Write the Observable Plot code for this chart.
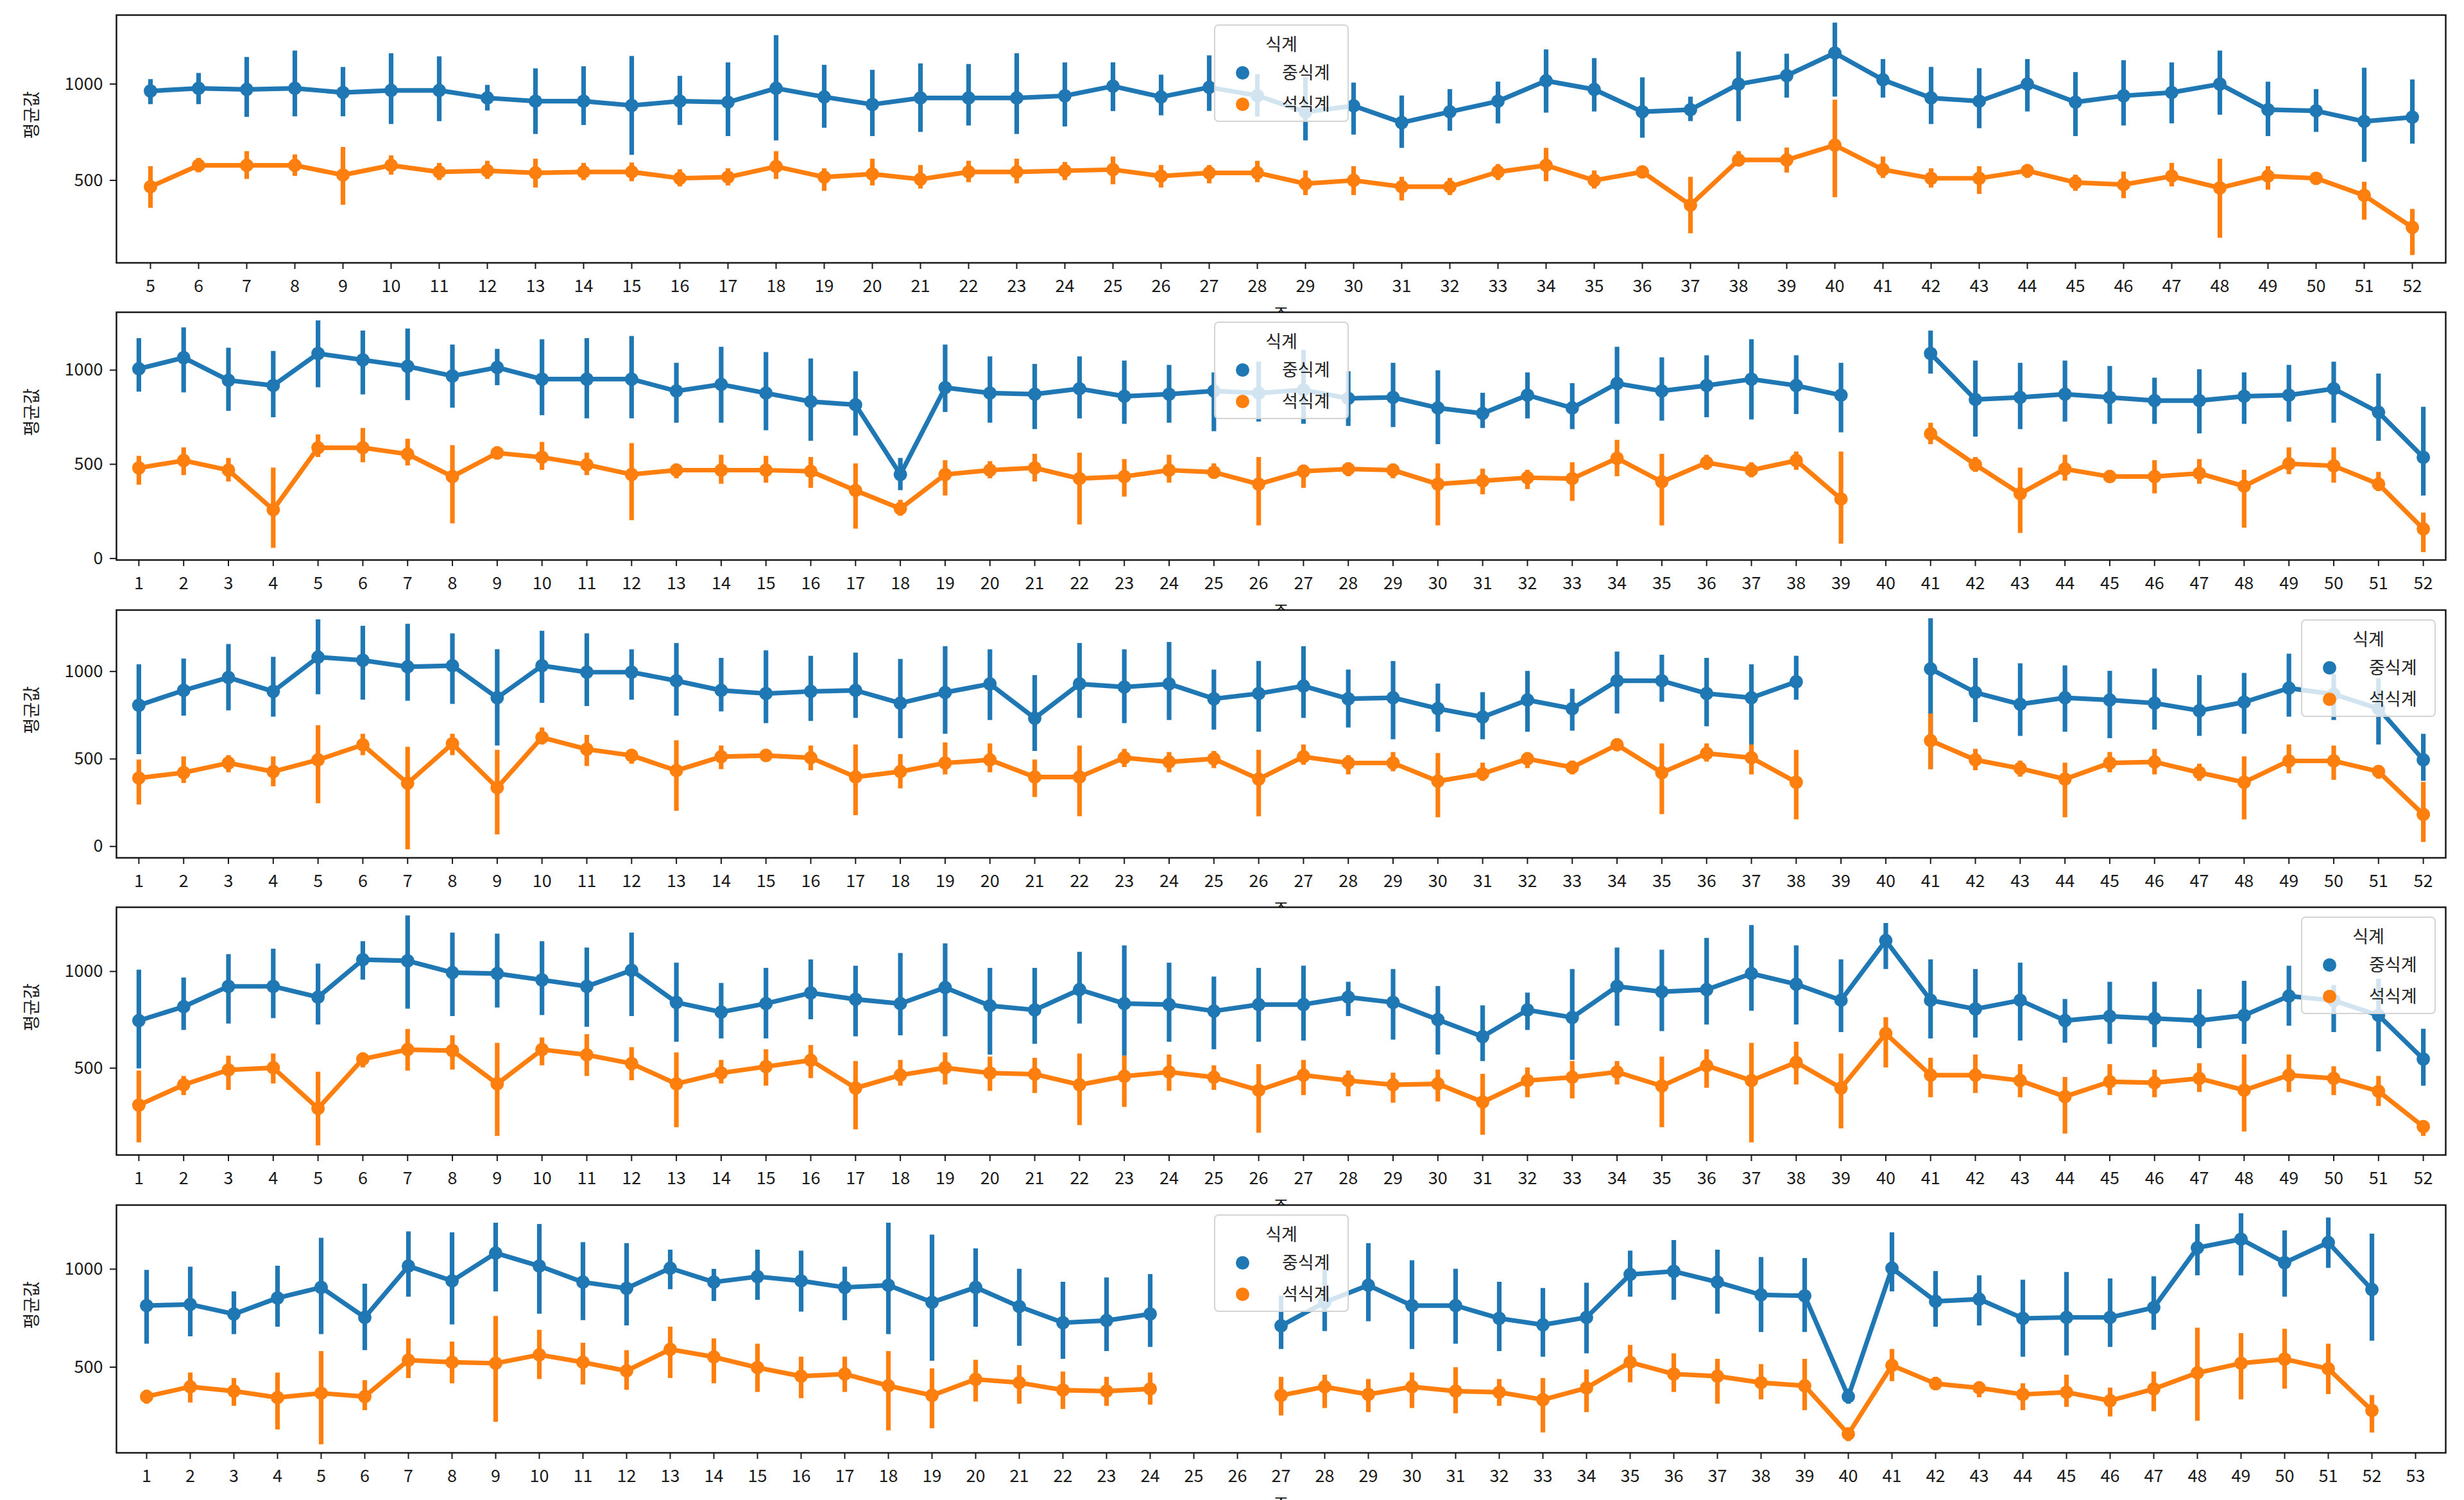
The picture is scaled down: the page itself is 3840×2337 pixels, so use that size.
<!DOCTYPE html>
<html>
<head>
<meta charset="utf-8">
<script src="https://cdn.jsdelivr.net/npm/d3@7"></script>
<script src="https://cdn.jsdelivr.net/npm/@observablehq/plot@0.6"></script>
<style>
  html, body { margin: 0; padding: 0; background: #fff; }
  #chart { position: relative; width: 3840px; height: 2337px; overflow: hidden; background: #fff;
           font-family: "Noto Sans CJK KR", "Noto Sans", sans-serif; }
  .panel { position: absolute; left: 0; }
  .legend { position: absolute; width: 210px; height: 152px; box-sizing: border-box;
            background: rgba(255,255,255,0.8); border: 2px solid #d4d4d4; border-radius: 7px; }
  .legend .ttl { position: absolute; left: 0; width: 100%; top: 12px; text-align: center;
                 font-size: 27px; line-height: 32px; color: #222; }
  .legend .dot { position: absolute; width: 21px; height: 21px; border-radius: 50%; }
  .legend .lab { position: absolute; font-size: 27px; line-height: 32px; color: #222; }
</style>
</head>
<body>
<div id="chart"></div>
<script>
// ---------------- data ----------------
const seriesNames = ["중식계", "석식계"];

// Panel 1: weeks 5..52
const weeks1 = d3.range(5, 53);
const blue1   = [964,978,972,978,956,967,967,928,911,911, 889,911,906,978,933,894,928,928,928,939, 989,933,983,940,855,887,800,856,911,1017, 972,856,867,1000,1044,1161,1022,928,911,1000, 906,939,956,1000,867,861,806,828];
const blueLo1 = [894,894,828,831,831,791,806,861,739,786, 631,786,728,706,772,728,750,783,739,778, 858,836,859,830,706,736,667,756,794,850, 856,720,806,806,928,933,928,791,769,856, 728,783,794,839,728,750,594,689];
const blueHi1 = [1024,1056,1139,1172,1087,1158,1142,994,1080,1091, 1144,1041,1111,1252,1098,1072,1106,1102,1158,1111, 1111,1047,1147,1050,1033,1006,939,972,1011,1178, 1133,1033,933,1167,1156,1317,1128,1087,1081,1128, 1061,1122,1111,1172,1011,972,1083,1022];
const orange1   = [467,578,578,578,528,578,544,550,539,544, 544,511,517,572,517,533,506,544,544,550, 556,522,539,539,483,500,467,467,544,578, 500,544,372,606,606,683,556,511,511,550, 489,478,522,461,522,511,422,256];
const orangeLo1 = [356,540,506,522,372,528,500,506,461,500, 494,467,472,506,444,472,456,489,483,500, 478,461,483,489,422,422,394,422,500,494, 456,511,224,572,539,411,511,461,428,511, 444,406,467,200,450,478,294,111];
const orangeHi1 = [572,615,650,633,672,628,589,600,611,589, 591,556,561,650,561,611,578,600,611,594, 622,578,578,600,550,572,517,511,583,667, 550,572,517,650,669,917,622,561,572,583, 528,544,589,611,572,539,491,350];

// Panel 2: weeks 1..52
const weeks2 = d3.range(1, 53);
const blue2   = [1007,1066,946,918,1088,1054,1020,969,1014,952, 952,952,889,924,878,833,816,446,907,878, 872,901,861,872,889,878,895,850,855,799, 770,867,799,929,889,918,952,918,867,null, 1088,844,855,872,855,838,838,861,867,901, 776,537];
const blueLo2 = [884,880,782,748,907,869,839,799,918,759, 742,742,719,719,679,623,651,361,776,719, 685,742,713,719,674,725,713,702,696,605, 691,742,685,713,730,748,736,765,668,null, 980,645,685,725,713,713,662,713,725,719, 623,333];
const blueHi2 = [1168,1225,1117,1100,1262,1208,1219,1134,1111,1162, 1168,1179,1037,1122,1094,1060,992,532,1134,1071, 1031,1071,1049,1026,986,1043,1105,992,1037,997, 878,986,929,1122,1066,1077,1162,1077,1037,null, 1208,1049,1037,1049,1020,958,1003,986,1026,1043, 980,804];
const orange2   = [481,520,469,259,588,588,554,435,560,537, 498,446,469,469,469,463,361,265,446,469, 481,424,435,469,458,395,463,475,469,395, 412,429,424,532,407,509,469,520,316,null, 662,498,344,475,435,435,452,384,503,492, 395,157];
const orangeLo2 = [390,441,407,55,537,509,492,185,526,469, 441,202,424,395,401,373,157,225,333,424, 407,179,327,401,424,174,373,435,424,174, 339,367,304,435,174,469,429,469,77,null, 605,458,134,412,401,344,395,162,446,401, 356,32];
const orangeHi2 = [543,588,532,481,657,691,634,600,594,617, 560,611,503,549,543,537,503,310,520,515, 554,560,526,549,503,537,497,509,503,503, 475,469,509,628,554,549,509,566,566,null, 719,537,481,549,469,520,526,469,588,588, 458,242];

// Panel 3: weeks 1..52
const weeks3 = d3.range(1, 53);
const blue3   = [807,892,966,886,1082,1064,1027,1033,850,1033, 996,996,947,892,874,886,892,819,880,929, 733,929,911,929,844,874,917,844,850,788, 740,837,788,947,947,874,850,941,null,null, 1015,880,813,850,837,819,776,825,905,870, 788,495];
const blueLo3 = [526,746,776,740,868,837,831,813,575,819, 801,837,746,770,703,715,733,617,642,721, 544,733,703,721,666,654,733,678,611,654, 611,654,660,758,825,685,581,837,null,null, 440,709,630,654,617,666,630,642,740,721, 581,373];
const blueHi3 = [1039,1072,1155,1082,1296,1259,1271,1216,1125,1231, 1216,1125,1161,1076,1119,1088,1106,1070,1143,1125, 978,1161,1125,1167,1009,1058,1143,1009,1058,929, 880,1002,899,1112,1094,1076,1039,1088,null,null, 1302,1076,1045,1033,1002,1015,978,990,1100,984, 960,642];
const orange3   = [391,422,477,428,495,581,361,587,336,623, 556,520,434,513,520,507,397,428,477,495, 397,397,507,483,501,385,513,477,477,373, 416,501,452,581,422,532,507,367,null,null, 605,495,446,385,477,483,422,367,489,489, 428,183];
const orangeLo3 = [238,361,422,342,245,520,-18,520,67,581, 458,471,202,440,483,434,177,330,410,422, 281,171,452,422,446,171,465,410,428,165, 373,446,410,544,183,483,410,153,null,null, 440,434,397,165,422,410,373,153,416,379, 385,24];
const orangeHi3 = [495,513,520,513,691,642,568,642,550,678, 636,556,605,575,556,575,581,526,593,587, 495,575,556,538,544,550,581,520,538,532, 477,538,489,617,587,587,581,550,null,null, 758,556,489,477,538,556,471,513,581,575, 458,367];

// Panel 4: weeks 1..52
const weeks4 = d3.range(1, 53);
const blue4   = [746,818,923,923,867,1061,1055,994,989,956, 923,1006,840,790,834,889,856,834,917,823, 801,906,834,829,795,829,829,867,840,751, 663,801,762,923,895,906,989,934,851,1160, 851,806,851,746,768,757,746,773,873,850, 773,547];
const blueLo4 = [497,696,729,757,724,956,806,768,812,773, 712,768,635,652,652,751,663,668,663,569, 624,729,563,635,596,635,641,768,646,569, 535,696,541,718,690,724,795,724,685,1011, 652,657,641,630,624,607,602,624,718,685, 585,408];
const blueHi4 = [1008,967,1088,1116,1039,1155,1288,1199,1194,1155, 1122,1199,1044,939,1017,1061,1028,1094,1144,1017, 1017,1100,1133,1044,972,1017,1028,945,1011,923, 823,889,1011,1122,1111,1172,1238,1133,1061,1249, 1061,1011,1044,856,945,945,906,950,1028,928, 961,702];
const orange4   = [309,414,491,502,292,547,596,591,419,596, 569,524,419,475,508,541,397,464,502,475, 469,414,458,480,453,386,464,436,414,419, 325,436,453,480,408,513,436,530,397,679, 464,464,436,353,430,425,447,386,464,447, 381,198];
const orangeLo4 = [115,359,386,419,99,502,486,491,148,513, 458,436,193,419,408,447,182,408,414,381, 370,204,298,381,386,165,359,353,320,326, 154,348,342,414,193,397,115,414,187,502, 348,370,348,160,359,348,375,171,375,359, 303,148];
const orangeHi4 = [486,458,563,574,480,580,701,668,629,657, 674,607,580,541,596,618,535,541,580,558, 552,574,563,569,513,519,541,486,475,491, 469,502,535,535,558,596,629,635,574,762, 552,569,519,453,519,491,524,569,569,508, 458,220];

// Panel 5: weeks 1..53
const weeks5 = d3.range(1, 54);
const blue5   = [814,820,771,853,907,754,1016,940,1082,1016, 934,902,1005,934,962,940,907,918,831,907, 809,727,738,771,null,null,711,831,918,814, 814,749,716,754,973,989,934,869,864,350, 1005,836,847,749,754,754,804,1109,1153,1033, 1136,896,null];
const blueLo5 = [618,656,667,705,667,585,858,716,885,771, 738,711,896,836,842,782,738,667,531,705, 607,541,580,602,null,null,591,683,733,591, 618,580,552,569,858,842,771,678,678,312, 885,705,711,552,558,602,689,967,967,858, 1005,634,null];
const blueHi5 = [995,1011,885,1016,1158,924,1191,1186,1235,1229, 1136,1131,1098,1000,1098,1093,1011,1235,1175,1104, 1000,934,956,973,null,null,864,1000,1131,1044, 1000,934,902,929,1093,1147,1098,1060,1055,389, 1186,989,967,945,984,951,962,1229,1284,1196, 1262,1180,null];
const orange5   = [350,400,378,345,367,350,536,525,520,563, 525,481,591,552,498,454,465,405,356,438, 421,383,378,389,null,null,356,400,361,400, 378,372,334,394,525,465,454,421,405,159, 509,416,394,361,372,329,389,471,520,541, 492,279,null];
const orangeLo5 = [312,318,301,181,105,279,443,416,219,438, 410,383,443,416,372,340,372,176,187,323, 312,285,301,307,null,null,252,290,269,290, 263,301,165,269,421,372,312,334,279,121, 427,383,345,279,296,247,274,225,334,389, 361,165,null];
const orangeHi5 = [383,471,443,471,580,432,645,629,760,689, 623,585,705,645,618,552,552,580,492,536, 509,476,449,471,null,null,449,460,438,471, 498,438,443,487,612,569,541,514,541,192, 591,449,427,416,460,394,476,700,672,694, 618,356,null];

const yTickValues = [0, 500, 1000];

// ---------------- layout / style ----------------
const COLORS = ["#1f77b4", "#ff7f0e"];
const FONT = "'Noto Sans CJK KR', 'Noto Sans', sans-serif";
const FS = 27;
const FRAME_H = 386, M_TOP = 10, M_BOT = 100, M_LEFT = 181, M_RIGHT = 29;

const panels = [
  {weeks: weeks1, b: blue1, bl: blueLo1, bh: blueHi1, o: orange1, ol: orangeLo1, oh: orangeHi1, top: 23,   domain: [72, 1358],  legend: "center"},
  {weeks: weeks2, b: blue2, bl: blueLo2, bh: blueHi2, o: orange2, ol: orangeLo2, oh: orangeHi2, top: 486,  domain: [-8, 1307],  legend: "center"},
  {weeks: weeks3, b: blue3, bl: blueLo3, bh: blueHi3, o: orange3, ol: orangeLo3, oh: orangeHi3, top: 950,  domain: [-65, 1351], legend: "right"},
  {weeks: weeks4, b: blue4, bl: blueLo4, bh: blueHi4, o: orange4, ol: orangeLo4, oh: orangeHi4, top: 1413, domain: [51, 1332],  legend: "right"},
  {weeks: weeks5, b: blue5, bl: blueLo5, bh: blueHi5, o: orange5, ol: orangeLo5, oh: orangeHi5, top: 1877, domain: [63, 1327],  legend: "center"}
];

const chart = document.getElementById("chart");

function buildPanel(p) {
  const rows = [];
  p.weeks.forEach((w, i) => {
    rows.push({week: w, series: seriesNames[0], mean: p.b[i], lo: p.bl[i], hi: p.bh[i]});
    rows.push({week: w, series: seriesNames[1], mean: p.o[i], lo: p.ol[i], hi: p.oh[i]});
  });
  const ticks = yTickValues.filter(t => t >= p.domain[0] && t <= p.domain[1]);
  const seriesMarks = [];
  seriesNames.forEach(s => {
    const rs = rows.filter(r => r.series === s);
    seriesMarks.push(
      Plot.line(rs, {x: "week", y: "mean", stroke: "series", strokeWidth: 7.2, strokeLinejoin: "round", strokeLinecap: "round"}),
      Plot.ruleX(rs.filter(r => r.lo != null && r.hi != null), {x: "week", y1: "lo", y2: "hi", stroke: "series", strokeWidth: 7.2}),
      Plot.dot(rs.filter(r => r.mean != null), {x: "week", y: "mean", fill: "series", r: 10.5, stroke: "none"})
    );
  });
  const svg = Plot.plot({
    width: 3840,
    height: M_TOP + FRAME_H + M_BOT,
    marginTop: M_TOP, marginBottom: M_BOT, marginLeft: M_LEFT, marginRight: M_RIGHT,
    style: {fontFamily: FONT, fontSize: FS + "px", color: "#1a1a1a", background: "transparent", overflow: "visible"},
    x: {type: "point", domain: p.weeks, padding: 0.5, align: 0.5, label: null},
    y: {domain: p.domain, label: null},
    color: {domain: seriesNames, range: COLORS},
    marks: [
      Plot.frame({fill: "white", stroke: "none"}),
      Plot.axisX({tickSize: 10, tickPadding: 16, fontSize: FS, label: null, tickFormat: d => String(d), strokeWidth: 2}),
      Plot.axisY({ticks, tickSize: 10, tickPadding: 11, fontSize: FS, label: null, tickFormat: d => String(d), strokeWidth: 2}),
      ...seriesMarks,
      Plot.frame({stroke: "#111", strokeWidth: 2.4}),
      Plot.text(["주"], {text: d => d, frameAnchor: "bottom", dy: 71, lineAnchor: "top", fontSize: FS, fill: "#1a1a1a"}),
      Plot.text(["평균값"], {text: d => d, frameAnchor: "left", dx: -131, rotate: -90, fontSize: FS, fill: "#1a1a1a"})
    ]
  });
  const wrap = document.createElement("div");
  wrap.className = "panel";
  wrap.style.top = (p.top - M_TOP) + "px";
  wrap.appendChild(svg);
  chart.appendChild(wrap);

  // legend box (title + two entries)
  const lg = document.createElement("div");
  lg.className = "legend";
  lg.style.left = (p.legend === "right" ? 3586 : 1892) + "px";
  lg.style.top = (p.top + 15) + "px";
  const ttl = document.createElement("div");
  ttl.className = "ttl";
  ttl.textContent = "식계";
  lg.appendChild(ttl);
  seriesNames.forEach((s, i) => {
    const dot = document.createElement("div");
    dot.className = "dot";
    dot.style.background = COLORS[i];
    dot.style.left = (42 - 10.5) + "px";
    dot.style.top = (73 + i * 49 - 10.5) + "px";
    lg.appendChild(dot);
    const lab = document.createElement("div");
    lab.className = "lab";
    lab.textContent = s;
    lab.style.left = "104px";
    lab.style.top = (73 + i * 49 - 17) + "px";
    lg.appendChild(lab);
  });
  chart.appendChild(lg);
}

panels.forEach(buildPanel);
</script>
</body>
</html>
